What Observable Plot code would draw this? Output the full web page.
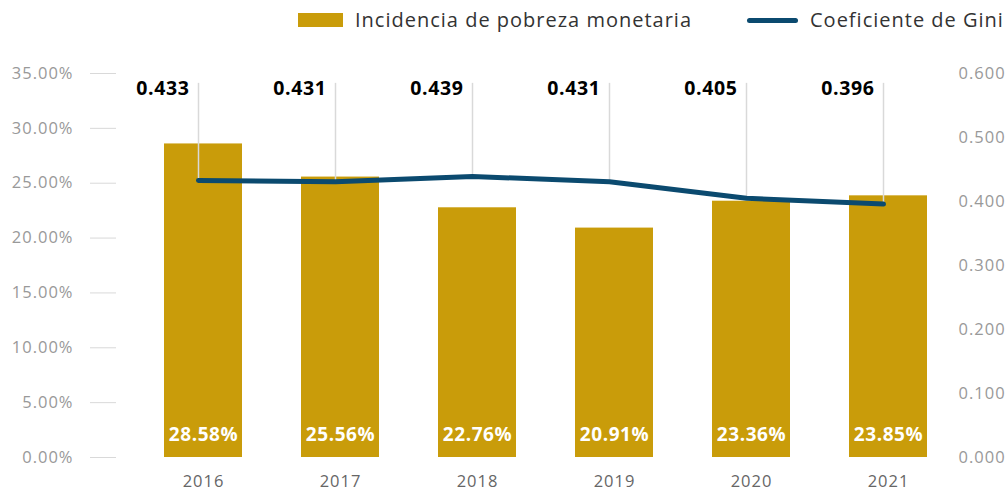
<!DOCTYPE html>
<html>
<head>
<meta charset="utf-8">
<script src="https://cdn.jsdelivr.net/npm/d3@7"></script>
<script src="https://cdn.jsdelivr.net/npm/@observablehq/plot@0.6"></script>
<style>
  body { margin: 0; background: #fff; font-family: "Open Sans", sans-serif; }
  #legend { position: relative; width: 1007px; height: 32px; }
  #legend .sw { position: absolute; }
  #legend .lab { position: absolute; top: 7px; font-size: 20px; letter-spacing: 1px; color: #333; line-height: 26px; white-space: nowrap; }
  svg .lsb text { letter-spacing: 0.6px; }
  svg [aria-label^="y-axis tick label"] text, svg [aria-label^="x-axis tick label"] text { letter-spacing: 1px; }
</style>
</head>
<body>
<div id="legend">
  <div class="sw" style="left:298px; top:13px; width:45px; height:14px; background:#C99C0A;"></div>
  <div class="lab" style="left:355px;">Incidencia de pobreza monetaria</div>
  <div class="sw" style="left:747px; top:18px; width:51px; height:5px; border-radius:3px; background:#0B4A6F;"></div>
  <div class="lab" style="left:810px;">Coeficiente de Gini</div>
</div>
<div id="chart"></div>
<script>
const years = ["2016", "2017", "2018", "2019", "2020", "2021"];
const poverty = [28.58, 25.56, 22.76, 20.91, 23.36, 23.85];
const gini = [0.433, 0.431, 0.439, 0.431, 0.405, 0.396];
const leftTicks = [0, 5, 10, 15, 20, 25, 30, 35];
const rightTicks = [0, 0.1, 0.2, 0.3, 0.4, 0.5, 0.6];

const leftMax = 35, rightMax = 0.6;
const toLeft = g => g * leftMax / rightMax;
const leaderTop = 34.1;

const data = years.map((year, i) => ({year, poverty: poverty[i], gini: gini[i], giniY: toLeft(gini[i])}));

const gold = "#C99C0A";
const navy = "#0B4A6F";

const chart = Plot.plot({
  width: 1007,
  height: 460,
  marginTop: 41,
  marginBottom: 35,
  marginLeft: 116,
  marginRight: 50,
  style: {fontFamily: "Open Sans, sans-serif", background: "#fff", overflow: "visible"},
  x: {domain: years, range: [134, 957], paddingInner: 0.43, paddingOuter: 0.215, label: null},
  y: {domain: [0, leftMax], label: null},
  marks: [
    Plot.axisY(leftTicks, {anchor: "left", tickSize: 26, tickPadding: 17, stroke: "#d9d9d9", fill: "#999",
      fontSize: 16.5, tickFormat: d => d.toFixed(2) + "%", label: null}),
    Plot.axisY(rightTicks.map(toLeft), {anchor: "right", tickSize: 0, tickPadding: 1, fill: "#999",
      fontSize: 16.5, tickFormat: d => (d * rightMax / leftMax).toFixed(3), label: null}),
    Plot.axisX({tickSize: 0, tickPadding: 18, fill: "#666", fontSize: 16.5, label: null}),
    Plot.barY(data, {x: "year", y: "poverty", fill: gold}),
    Plot.text(data, {x: "year", y: 0, text: d => d.poverty.toFixed(2) + "%", fill: "#fff", fontWeight: "bold",
      fontSize: 19, lineAnchor: "middle", dy: -23, className: "lsb"}),
    Plot.ruleX(data, {x: "year", y1: "giniY", y2: () => leaderTop, stroke: "#d9d9d9", strokeWidth: 1.5, dx: -5}),
    Plot.line(data, {x: "year", y: "giniY", stroke: navy, strokeWidth: 5, dx: -5}),
    Plot.text(data, {x: "year", y: () => leaderTop, text: d => d.gini.toFixed(3), fill: "#000", fontWeight: "bold",
      fontSize: 19.5, textAnchor: "end", lineAnchor: "middle", dx: -14, dy: 5, className: "lsb"})
  ]
});
document.getElementById("chart").appendChild(chart);
</script>
</body>
</html>
